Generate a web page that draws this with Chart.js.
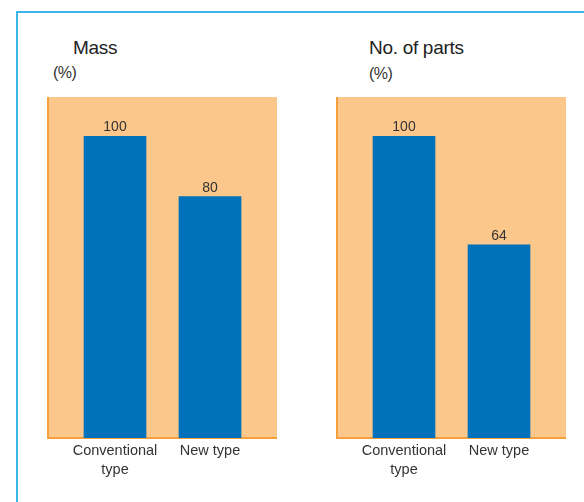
<!DOCTYPE html>
<html lang="en">
<head>
  <meta charset="UTF-8" />
  <title>Mass and number of parts</title>
  <script src="https://cdn.jsdelivr.net/npm/chart.js@4.4.1/dist/chart.umd.min.js"></script>
  <style>
    html, body { margin: 0; padding: 0; background: #fff; }
    body { width: 584px; height: 502px; overflow: hidden; position: relative;
           font-family: "Liberation Sans", Arial, sans-serif; color: #222; }
    #frame { position: absolute; left: 16px; top: 11px; width: 620px; height: 540px;
             border: 2px solid #3db4ea; box-sizing: border-box; }
    .title { position: absolute; font-size: 19px; line-height: 19px; white-space: nowrap; letter-spacing: -0.3px; }
    .unit { position: absolute; font-size: 16px; line-height: 16px; white-space: nowrap; color: #333; letter-spacing: -0.5px; }
    .box { position: absolute; top: 90px; width: 280px; height: 412px; }
  </style>
</head>
<body>
  <div id="frame"></div>

  <div class="title" style="left:73px; top:38px;">Mass</div>
  <div class="unit" style="left:53px; top:65px;">(%)</div>
  <div class="title" style="left:369px; top:38px;">No. of parts</div>
  <div class="unit" style="left:369px; top:66px;">(%)</div>

  <div class="box" style="left:20px;"><canvas id="mass"></canvas></div>
  <div class="box" style="left:309px;"><canvas id="parts"></canvas></div>

  <script>
    // data (conventional = 100 %)
    const categories = [["Conventional", "type"], "New type"];
    const massValues = [100, 80];
    const partsValues = [100, 64];

    const BAR_BLUE = "#0071bb";
    const PANEL_ORANGE = "#fbc78b";
    const AXIS_ORANGE = "#f5a03c";

    // orange panel behind the bars, a bit wider than the chart area
    const panelBg = {
      id: "panelBg",
      beforeDraw(chart) {
        const { ctx, chartArea: a } = chart;
        const pad = 19.5;
        ctx.save();
        ctx.fillStyle = PANEL_ORANGE;
        ctx.fillRect(a.left - pad, a.top, a.right - a.left + 2 * pad, a.bottom - a.top);
        ctx.strokeStyle = AXIS_ORANGE;
        ctx.lineWidth = 2;
        ctx.beginPath();
        ctx.moveTo(a.left - pad, a.top);
        ctx.lineTo(a.left - pad, a.bottom);
        ctx.lineTo(a.right + pad, a.bottom);
        ctx.stroke();
        ctx.restore();
      }
    };

    // value printed above each bar
    const valueLabels = {
      id: "valueLabels",
      afterDatasetsDraw(chart) {
        const { ctx } = chart;
        const meta = chart.getDatasetMeta(0);
        const vals = chart.data.datasets[0].data;
        ctx.save();
        ctx.fillStyle = "#333";
        ctx.font = "14px 'Liberation Sans', Arial, sans-serif";
        ctx.textAlign = "center";
        ctx.textBaseline = "alphabetic";
        meta.data.forEach((bar, i) => {
          ctx.fillText(String(vals[i]), bar.x, bar.y - 5);
        });
        ctx.restore();
      }
    };

    function makeChart(id, values) {
      return new Chart(document.getElementById(id), {
        type: "bar",
        data: {
          labels: categories,
          datasets: [{
            data: values,
            backgroundColor: BAR_BLUE,
            borderWidth: 0,
            barThickness: 62
          }]
        },
        options: {
          responsive: true,
          maintainAspectRatio: false,
          animation: false,
          layout: { padding: { left: 47.5, right: 42.5, top: 7, bottom: 0 } },
          plugins: { legend: { display: false }, tooltip: { enabled: false } },
          scales: {
            x: {
              grid: { display: false, drawTicks: false },
              border: { display: false },
              ticks: {
                padding: 4,
                maxRotation: 0,
                minRotation: 0,
                autoSkip: false,
                color: "#333",
                font: { family: "'Liberation Sans', Arial, sans-serif", size: 14.5, lineHeight: 1.3 }
              },
              afterFit(scale) {
                scale.height = 64;
                scale.paddingLeft = 0;
                scale.paddingRight = 0;
              }
            },
            y: { display: false, min: 0, max: 113 }
          }
        },
        plugins: [panelBg, valueLabels]
      });
    }

    makeChart("mass", massValues);
    makeChart("parts", partsValues);
  </script>
</body>
</html>
